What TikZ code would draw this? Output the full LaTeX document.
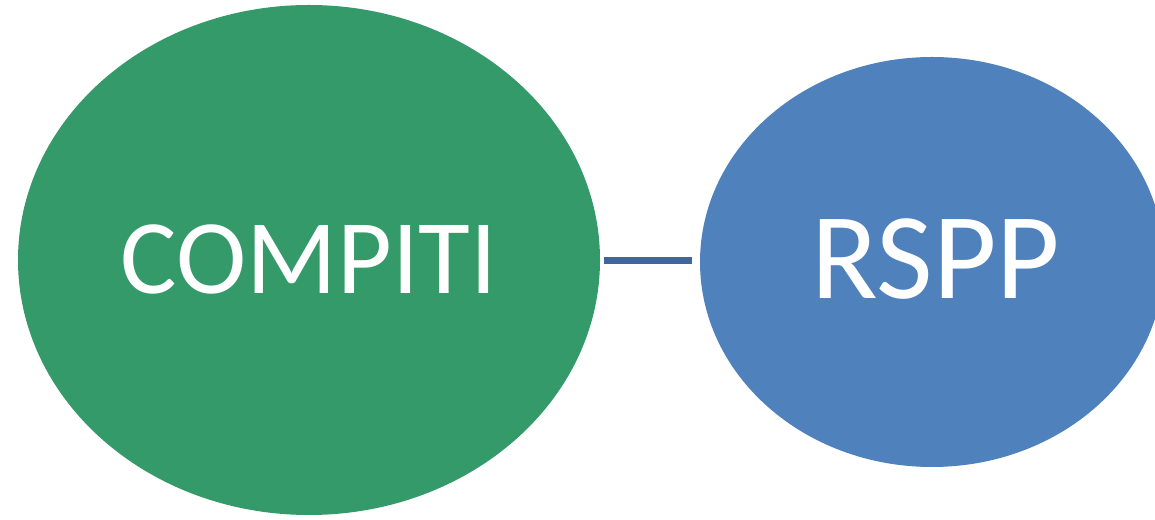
\documentclass[tikz,border=0pt]{standalone}
\usepackage{fontspec}
\setmainfont{Carlito}
\definecolor{gfill}{HTML}{359A69}
\definecolor{bfill}{HTML}{4F81BD}
\definecolor{lcol}{HTML}{41679A}
\begin{document}
\begin{tikzpicture}[x=1pt,y=1pt,
  label/.style={text=white, inner sep=0pt},
  ]
\useasboundingbox (0,0) rectangle (1155,519);
\clip (0,0) rectangle (1155,519);
\fill[gfill] (309,259) ellipse [x radius=291, y radius=255];
\fill[bfill] (932,257) ellipse [x radius=232, y radius=205];
\node[label, font=\fontsize{106}{106}\selectfont] (c) at (309,260) {COMPITI};
\node[label, font=\fontsize{123}{123}\selectfont] (r) at (936,260) {RSPP};
\coordinate (a) at (604,258);
\coordinate (b) at (692,258);
\draw[lcol, line width=7pt] (a) -- (b);
\end{tikzpicture}
\end{document}
